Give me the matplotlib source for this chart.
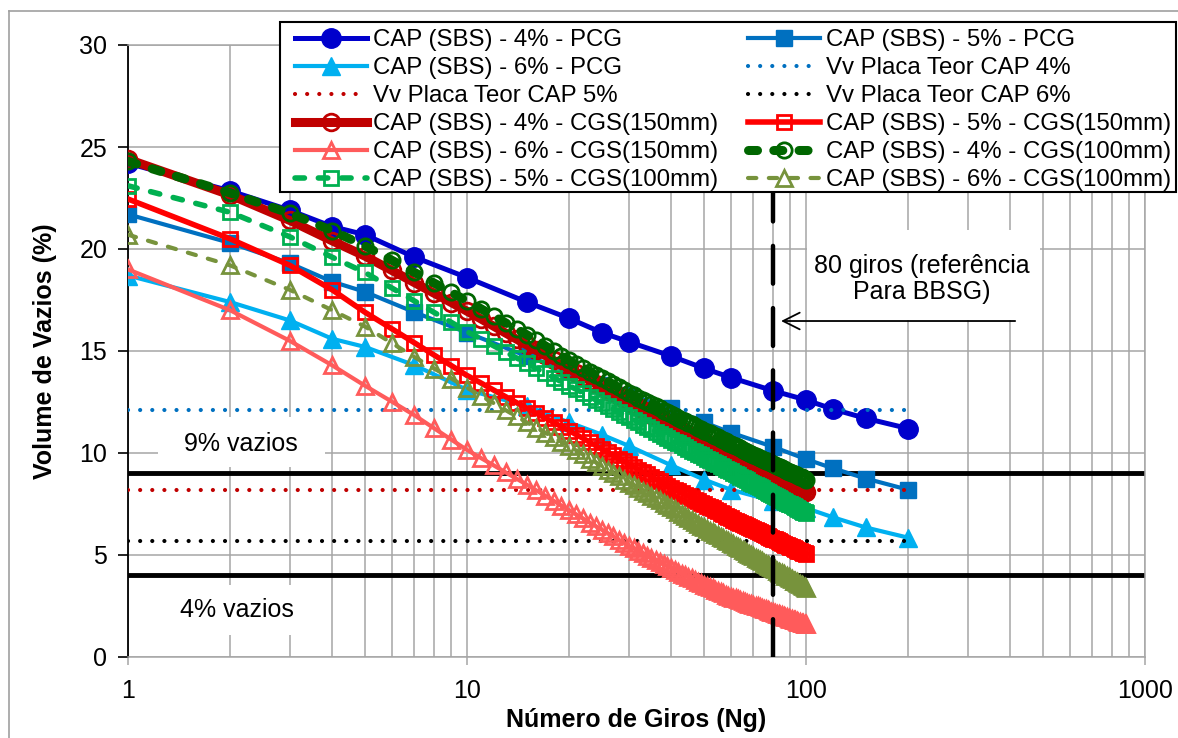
import matplotlib
matplotlib.use('Agg')
import matplotlib.pyplot as plt
from matplotlib.patches import Rectangle
from matplotlib.lines import Line2D
from matplotlib.ticker import FuncFormatter

plt.rcParams['font.family'] = ['Liberation Sans', 'DejaVu Sans']

# Ensaios na prensa PCG
giros_pcg = [1, 2, 3, 4, 5, 7, 10, 15, 20, 25, 30, 40, 50, 60, 80, 100, 120, 150, 200]
pcg_4 = [24.2, 22.85, 21.9, 21.1, 20.7, 19.6, 18.6, 17.4, 16.6, 15.9, 15.45, 14.75, 14.15, 13.7, 13.05, 12.6, 12.15, 11.7, 11.2]
pcg_5 = [21.7, 20.3, 19.3, 18.4, 17.9, 16.9, 15.9, 14.75, 14.0, 13.35, 12.85, 12.2, 11.5, 11.0, 10.3, 9.7, 9.25, 8.75, 8.2]
pcg_6 = [18.7, 17.4, 16.5, 15.6, 15.2, 14.3, 13.1, 12.3, 11.5, 10.9, 10.35, 9.4, 8.7, 8.2, 7.65, 7.3, 6.85, 6.35, 5.85]

# Vv medido nas placas
vv_x = [1, 200]
vv_4 = 12.1
vv_5 = 8.2
vv_6 = 5.7

# Ensaios no CGS, leitura a cada giro
giros_cgs = list(range(1, 101))
cgs150_4 = [24.4, 22.65, 21.4, 20.4, 19.65, 18.95, 18.35, 17.83, 17.37, 16.95,
            16.57, 16.21, 15.88, 15.58, 15.3, 15.03, 14.78, 14.54, 14.31, 14.1,
            13.91, 13.73, 13.54, 13.38, 13.22, 13.06, 12.92, 12.77, 12.64, 12.5,
            12.37, 12.24, 12.11, 12.0, 11.88, 11.77, 11.66, 11.55, 11.45, 11.35,
            11.25, 11.17, 11.08, 10.99, 10.9, 10.82, 10.74, 10.66, 10.58, 10.5,
            10.43, 10.36, 10.29, 10.23, 10.16, 10.1, 10.03, 9.97, 9.91, 9.85,
            9.79, 9.74, 9.68, 9.63, 9.57, 9.51, 9.47, 9.41, 9.36, 9.31,
            9.27, 9.22, 9.17, 9.12, 9.07, 9.03, 8.99, 8.94, 8.89, 8.85,
            8.81, 8.77, 8.73, 8.69, 8.65, 8.61, 8.56, 8.53, 8.49, 8.46,
            8.42, 8.38, 8.35, 8.31, 8.27, 8.24, 8.2, 8.17, 8.13, 8.1]
cgs150_5 = [22.45, 20.5, 19.2, 18.0, 16.9, 16.09, 15.4, 14.8, 14.28, 13.8,
            13.43, 13.08, 12.76, 12.47, 12.2, 11.95, 11.72, 11.5, 11.29, 11.1,
            10.9, 10.72, 10.53, 10.36, 10.19, 10.03, 9.88, 9.73, 9.59, 9.45,
            9.32, 9.19, 9.06, 8.95, 8.83, 8.72, 8.61, 8.5, 8.4, 8.3,
            8.21, 8.13, 8.04, 7.96, 7.88, 7.8, 7.72, 7.65, 7.57, 7.5,
            7.42, 7.35, 7.28, 7.21, 7.14, 7.07, 6.99, 6.93, 6.86, 6.8,
            6.74, 6.69, 6.63, 6.58, 6.52, 6.46, 6.42, 6.36, 6.31, 6.26,
            6.22, 6.17, 6.12, 6.07, 6.02, 5.98, 5.94, 5.89, 5.84, 5.8,
            5.76, 5.72, 5.68, 5.64, 5.6, 5.56, 5.51, 5.48, 5.44, 5.41,
            5.37, 5.33, 5.3, 5.26, 5.22, 5.19, 5.15, 5.12, 5.08, 5.05]
cgs150_6 = [19.0, 17.0, 15.5, 14.3, 13.3, 12.52, 11.85, 11.21, 10.65, 10.15,
            9.75, 9.39, 9.05, 8.74, 8.45, 8.17, 7.91, 7.66, 7.42, 7.2,
            6.99, 6.79, 6.59, 6.41, 6.24, 6.07, 5.91, 5.75, 5.6, 5.45,
            5.33, 5.2, 5.08, 4.97, 4.86, 4.75, 4.65, 4.54, 4.45, 4.35,
            4.26, 4.18, 4.09, 4.01, 3.93, 3.85, 3.77, 3.7, 3.62, 3.55,
            3.48, 3.42, 3.36, 3.3, 3.24, 3.18, 3.12, 3.06, 3.0, 2.95,
            2.91, 2.87, 2.82, 2.78, 2.74, 2.7, 2.66, 2.62, 2.58, 2.55,
            2.51, 2.48, 2.44, 2.4, 2.37, 2.33, 2.3, 2.27, 2.23, 2.2,
            2.17, 2.13, 2.1, 2.07, 2.04, 2.01, 1.97, 1.95, 1.92, 1.88,
            1.85, 1.82, 1.8, 1.77, 1.74, 1.71, 1.68, 1.66, 1.62, 1.6]
cgs100_4 = [24.3, 22.75, 21.75, 20.9, 20.15, 19.45, 18.85, 18.33, 17.87, 17.45,
            17.07, 16.71, 16.38, 16.08, 15.8, 15.52, 15.26, 15.01, 14.77, 14.55,
            14.36, 14.18, 13.99, 13.83, 13.67, 13.51, 13.37, 13.22, 13.09, 12.95,
            12.83, 12.71, 12.6, 12.5, 12.39, 12.29, 12.19, 12.08, 11.99, 11.9,
            11.81, 11.73, 11.64, 11.56, 11.48, 11.4, 11.32, 11.25, 11.17, 11.1,
            11.03, 10.96, 10.89, 10.83, 10.76, 10.7, 10.63, 10.57, 10.51, 10.45,
            10.39, 10.34, 10.28, 10.23, 10.17, 10.11, 10.07, 10.01, 9.96, 9.91,
            9.87, 9.82, 9.77, 9.72, 9.67, 9.63, 9.59, 9.54, 9.49, 9.45,
            9.41, 9.37, 9.33, 9.29, 9.25, 9.21, 9.16, 9.13, 9.09, 9.06,
            9.02, 8.98, 8.95, 8.91, 8.87, 8.84, 8.8, 8.77, 8.73, 8.7]
cgs100_5 = [23.1, 21.8, 20.6, 19.6, 18.85, 18.09, 17.45, 16.89, 16.4, 15.95,
            15.59, 15.25, 14.95, 14.66, 14.4, 14.15, 13.92, 13.7, 13.49, 13.3,
            13.12, 12.94, 12.76, 12.6, 12.45, 12.3, 12.15, 12.01, 11.88, 11.75,
            11.63, 11.5, 11.38, 11.27, 11.16, 11.05, 10.95, 10.84, 10.75, 10.65,
            10.55, 10.47, 10.38, 10.29, 10.2, 10.12, 10.04, 9.96, 9.88, 9.8,
            9.72, 9.65, 9.58, 9.51, 9.44, 9.37, 9.29, 9.23, 9.16, 9.1,
            9.04, 8.97, 8.91, 8.84, 8.78, 8.71, 8.66, 8.59, 8.54, 8.48,
            8.43, 8.37, 8.32, 8.26, 8.21, 8.15, 8.11, 8.05, 8.0, 7.95,
            7.9, 7.85, 7.8, 7.76, 7.71, 7.66, 7.61, 7.57, 7.52, 7.48,
            7.43, 7.38, 7.35, 7.3, 7.25, 7.22, 7.17, 7.13, 7.09, 7.05]
cgs100_6 = [20.7, 19.2, 18.0, 17.0, 16.2, 15.39, 14.7, 14.14, 13.65, 13.2,
            12.8, 12.44, 12.1, 11.79, 11.5, 11.24, 11.0, 10.77, 10.55, 10.35,
            10.14, 9.93, 9.73, 9.54, 9.36, 9.18, 9.02, 8.86, 8.7, 8.55,
            8.42, 8.28, 8.15, 8.03, 7.91, 7.79, 7.68, 7.56, 7.46, 7.35,
            7.24, 7.13, 7.03, 6.93, 6.82, 6.72, 6.63, 6.54, 6.44, 6.35,
            6.26, 6.19, 6.11, 6.04, 5.96, 5.89, 5.81, 5.74, 5.67, 5.6,
            5.53, 5.46, 5.39, 5.32, 5.25, 5.18, 5.12, 5.05, 4.99, 4.93,
            4.87, 4.81, 4.75, 4.69, 4.63, 4.57, 4.52, 4.46, 4.4, 4.35,
            4.3, 4.24, 4.19, 4.14, 4.1, 4.05, 3.99, 3.95, 3.9, 3.85,
            3.8, 3.75, 3.71, 3.66, 3.62, 3.58, 3.53, 3.49, 3.44, 3.4]

limite_9 = 9
limite_4 = 4
giros_ref = 80

W, H = 1178, 738
fig = plt.figure(figsize=(W / 100, H / 100), dpi=100)
ax = fig.add_axes([128 / W, 1 - 657 / H, 1017 / W, 612 / H])

grid_cor = '#A6A6A6'
ax.set_xscale('log')
ax.set_xlim(1, 1000)
ax.set_ylim(0, 30)
ax.set_yticks(range(0, 31, 5))
ax.set_axisbelow(True)
ax.grid(True, which='both', axis='x', color=grid_cor, lw=1.1)
ax.grid(True, which='major', axis='y', color=grid_cor, lw=1.1)
ax.xaxis.set_major_formatter(FuncFormatter(lambda v, p: f'{v:g}'))
ax.tick_params(axis='y', direction='out', length=7, width=1.2, labelsize=18, pad=8, color='black')
ax.tick_params(axis='x', which='major', direction='out', length=6, width=1.1, labelsize=18, pad=10, color=grid_cor)
ax.tick_params(axis='x', which='minor', length=0)
for lado in ['top', 'right', 'bottom']:
    ax.spines[lado].set_color(grid_cor)
    ax.spines[lado].set_linewidth(1.1)
ax.spines['left'].set_color('black')
ax.spines['left'].set_linewidth(1.3)

# limites de 9% e 4% de vazios
ax.axhline(limite_9, color='black', lw=3.5, zorder=1.8)
ax.axhline(limite_4, color='black', lw=3.5, zorder=1.8)

pontilhado = (0, (0.01, 2.9))
aberto = dict(mfc='none', mew=2.0, zorder=3)
h = {}
h['p4'], = ax.plot(giros_pcg, pcg_4, color='#0000CC', lw=3.6, marker='o', ms=14, zorder=3)
h['p5'], = ax.plot(giros_pcg, pcg_5, color='#0070C0', lw=3.0, marker='s', ms=12, zorder=3)
h['p6'], = ax.plot(giros_pcg, pcg_6, color='#00B0F0', lw=3.0, marker='^', ms=13, zorder=3)
h['v4'], = ax.plot(vv_x, [vv_4, vv_4], color='#0070C0', lw=3, ls=pontilhado, dash_capstyle='round', zorder=3)
h['v5'], = ax.plot(vv_x, [vv_5, vv_5], color='#C00000', lw=3, ls=pontilhado, dash_capstyle='round', zorder=3)
h['v6'], = ax.plot(vv_x, [vv_6, vv_6], color='black', lw=3, ls=pontilhado, dash_capstyle='round', zorder=3)
h['c4'], = ax.plot(giros_cgs, cgs150_4, color='#C00000', lw=6.5, marker='o', ms=12, **aberto)
h['c5'], = ax.plot(giros_cgs, cgs150_5, color='#FF0000', lw=4, marker='s', ms=10.5, **aberto)
h['c6'], = ax.plot(giros_cgs, cgs150_6, color='#FF5B5B', lw=3, marker='^', ms=11, **aberto)
h['d4'], = ax.plot(giros_cgs, cgs100_4, color='#006600', lw=6.5, ls=(0, (1.0, 1.8)), dash_capstyle='round',
                   marker='o', ms=11, **aberto)
h['d5'], = ax.plot(giros_cgs, cgs100_5, color='#00B050', lw=4, ls=(0, (1.7, 2.5)), dash_capstyle='round',
                   marker='s', ms=10.5, **aberto)
h['d6'], = ax.plot(giros_cgs, cgs100_6, color='#77933C', lw=3, ls=(0, (2.0, 3.0)), dash_capstyle='round',
                   marker='^', ms=11, **aberto)

ax.axvline(giros_ref, color='black', lw=3.2, ls=(0, (8.5, 5.5)), dash_capstyle='round', zorder=4)

# caixas de texto
ax.add_patch(Rectangle((1.226, 9.31), 3.81 - 1.226, 11.76 - 9.31, fc='white', ec='none', zorder=1.5))
ax.add_patch(Rectangle((1.24, 1.08), 3.64 - 1.24, 3.53 - 1.08, fc='white', ec='none', zorder=1.5))
ax.add_patch(Rectangle((100.8, 16.5), 490 - 100.8, 20.95 - 16.5, fc='white', ec='none', zorder=1.5))
ax.text(2.15, 10.44, '9% vazios', ha='center', va='center', fontsize=18, zorder=5)
ax.text(2.10, 2.3, '4% vazios', ha='center', va='center', fontsize=18, zorder=5)
ax.text(219.8, 18.53, '80 giros (referência\nPara BBSG)', ha='center', va='center',
        multialignment='center', linespacing=1.1, fontsize=18, zorder=5)
ax.annotate('', xy=(84.4, 16.47), xytext=(414, 16.47),
            arrowprops=dict(arrowstyle='->,head_length=0.6,head_width=0.3', color='black', lw=1.3,
                            mutation_scale=20, shrinkA=0, shrinkB=0), zorder=5)

ax.set_xlabel('Número de Giros (Ng)', fontsize=18, fontweight='bold')
ax.set_ylabel('Volume de Vazios (%)', fontsize=18, fontweight='bold')
ax.xaxis.set_label_coords(0.5, -0.083)
ax.yaxis.set_label_coords(-0.07, 0.5)

rotulos = {
    'p4': 'CAP (SBS) - 4% - PCG', 'p5': 'CAP (SBS) - 5% - PCG', 'p6': 'CAP (SBS) - 6% - PCG',
    'v4': 'Vv Placa Teor CAP 4%', 'v5': 'Vv Placa Teor CAP 5%', 'v6': 'Vv Placa Teor CAP 6%',
    'c4': 'CAP (SBS) - 4% - CGS(150mm)', 'c5': 'CAP (SBS) - 5% - CGS(150mm)', 'c6': 'CAP (SBS) - 6% - CGS(150mm)',
    'd4': 'CAP (SBS) - 4% - CGS(100mm)', 'd5': 'CAP (SBS) - 5% - CGS(100mm)', 'd6': 'CAP (SBS) - 6% - CGS(100mm)',
}
# caixa da legenda desenhada a parte
fig.add_artist(Rectangle((280 / W, 1 - 192 / H), 896 / W, 170 / H, transform=fig.transFigure,
                         fc='white', ec='black', lw=1.5, zorder=4))
# legenda preenchida por linhas, duas colunas
ordem = ['p4', 'p6', 'v5', 'c4', 'c6', 'd5', 'p5', 'v4', 'v6', 'c5', 'd4', 'd6']
leg = fig.legend([h[k] for k in ordem], [rotulos[k] for k in ordem], ncol=2, loc='upper left',
                 bbox_to_anchor=(295 / W, 1 - 29 / H), bbox_transform=fig.transFigure,
                 frameon=False, borderpad=0, borderaxespad=0, handlelength=3.0, handletextpad=0.25,
                 columnspacing=1.25, labelspacing=0.25, fontsize=17.3, numpoints=1)
leg.set_zorder(5)

# moldura da area do grafico
fig.add_artist(Line2D([9 / W, 9 / W], [0, 1 - 11 / H], transform=fig.transFigure, color='#A0A0A0', lw=1.2))
fig.add_artist(Line2D([9 / W, 1], [1 - 11 / H, 1 - 11 / H], transform=fig.transFigure, color='#A0A0A0', lw=1.2))

fig.savefig('out.png', dpi=100)
